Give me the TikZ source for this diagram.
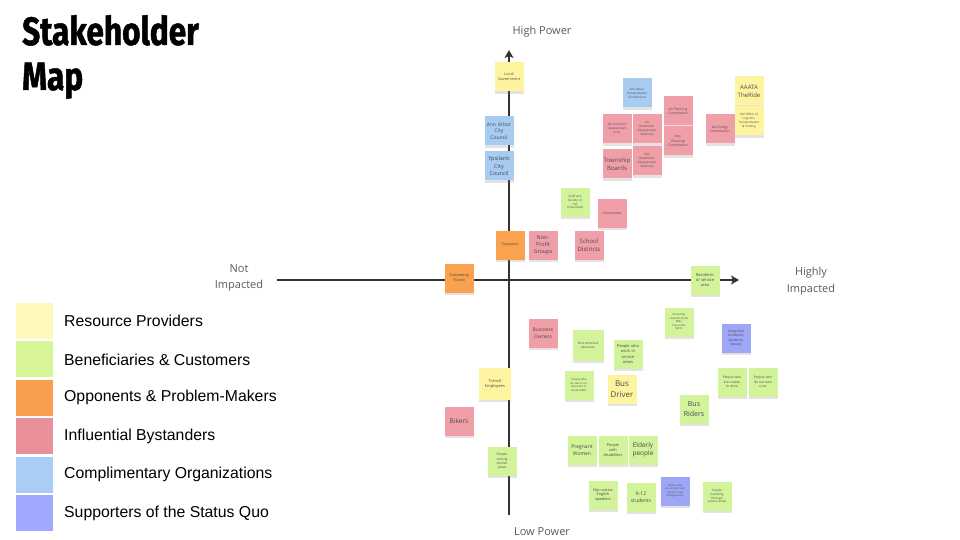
\documentclass[tikz,border=0pt]{standalone}
\usepackage{fontspec}
\setmainfont{Liberation Sans}
\newfontfamily\titlefont[FakeStretch=0.8,FakeBold=1.2]{Fira Sans}
\newfontfamily\opensans{Open Sans}
\usetikzlibrary{arrows.meta,shadows}
\newcommand\sfs[1]{\opensans\fontsize{#1}{\dimexpr #1pt*13/10\relax}\selectfont}
\definecolor{stY}{HTML}{FEF4A0}
\definecolor{stG}{HTML}{D3F39B}
\definecolor{stP}{HTML}{F09FA9}
\definecolor{stB}{HTML}{A8CBF2}
\definecolor{stV}{HTML}{9EA6F7}
\definecolor{stO}{HTML}{FBA24E}
\definecolor{lgY}{HTML}{FFF8BD}
\definecolor{lgG}{HTML}{D7F596}
\definecolor{lgO}{HTML}{F99E4C}
\definecolor{lgP}{HTML}{EA909B}
\definecolor{lgB}{HTML}{A9CDF4}
\definecolor{lgV}{HTML}{A0A9FD}
\definecolor{axisc}{HTML}{333333}
\definecolor{labc}{HTML}{5A5A5A}
\definecolor{stxt}{HTML}{4A4A4A}
\tikzset{
  sticky/.style={fill=#1, minimum width=28.5pt, minimum height=29pt, inner sep=0.5pt,
    align=center, text=stxt, text width=28pt,
    drop shadow={opacity=0.22, shadow xshift=0pt, shadow yshift=-2.2pt}},
  legsq/.style={fill=#1, minimum width=37pt, minimum height=36pt, inner sep=0pt},
  legtxt/.style={anchor=west, font=\fontsize{15.8}{18}\selectfont, text=black, inner sep=0pt},
  axlab/.style={font=\opensans\fontsize{11}{16.5}\selectfont, text=labc, align=center},
  axisline/.style={draw=axisc, line width=2pt, -{Stealth[length=8pt,width=9pt,inset=2pt]}},
  ttl/.style={anchor=base west, inner sep=0pt, font=\titlefont\bfseries\fontsize{39.5}{45}\selectfont}
}
\begin{document}
\begin{tikzpicture}[x=1pt,y=-1pt]
\useasboundingbox[fill=white] (0,0) rectangle (960,540);
% title
\node[ttl] (t1) at (22,45) {Stakeholder};
\node[ttl] (t2) at (22,90) {Map};
% legend
\foreach \c/\t [count=\i] in {lgY/Resource Providers, lgG/Beneficiaries \& Customers, lgO/Opponents \& Problem-Makers, lgP/Influential Bystanders, lgB/Complimentary Organizations, lgV/Supporters of the Status Quo}{
  \node[legsq=\c] (sq\i) at (34.5, 321+38.4*\i-38.4) {};
  \node[legtxt] (lt\i) at (64, 321+38.4*\i-38.4) {\t};
}
% axes
\coordinate (vbot) at (509,515);
\coordinate (vtop) at (509,50);
\coordinate (hl) at (277,280);
\coordinate (hr) at (739,280);
\draw[axisline] (vbot) -- (vtop);
\draw[axisline] (hl) -- (hr);
\node[axlab] (hp) at (542,32) {High Power};
\node[axlab] (lp) at (542,532) {Low Power};
\node[axlab] (ni) at (239,278) {Not\\Impacted};
\node[axlab] (hi) at (811,281) {Highly\\Impacted};
% stickies - upper area
\node[sticky=stY, font=\sfs{3.8}] (n1) at (509,77) {Local\\Government};
\node[sticky=stB, font=\sfs{5}] (n2) at (499,131) {Ann Arbor\\City\\Council};
\node[sticky=stB, font=\sfs{5.5}] (n3) at (499,166) {Ypsilanti\\City\\Council};
\node[sticky=stB, font=\sfs{3}] (n4) at (637,93) {Ann Arbor\\Transportation\\Commission};
\node[sticky=stP, font=\sfs{3}] (n5) at (617,129) {AA Economic\\Development\\Corp.};
\node[sticky=stP, font=\sfs{3}] (n6) at (647,129) {AA\\Downtown\\Development\\Authority};
\node[sticky=stP, font=\sfs{3.3}] (n7) at (678,111) {AA Planning\\Commission};
\node[sticky=stP, font=\sfs{3.3}] (n8) at (678,141) {Ypsi\\Planning\\Commission};
\node[sticky=stP, font=\sfs{6}] (n9) at (617,164) {Township\\Boards};
\node[sticky=stP, font=\sfs{3}] (n10) at (647,161) {Ypsi\\Downtown\\Development\\Authority};
\node[sticky=stP, font=\sfs{3.3}] (n11) at (720,129) {AA Energy\\Commission};
\node[sticky=stY, font=\sfs{6}] (n12) at (749,91) {AAATA\\TheRide};
\node[sticky=stY, font=\sfs{3}] (n13) at (749,121) {UM Office of\\Logistics,\\Transportation\\\& Parking};
\node[sticky=stG, font=\sfs{3}] (n14) at (575,202) {Staff and\\Faculty of\\the\\Universities};
\node[sticky=stP, font=\sfs{3.5}] (n15) at (612,213) {Universities};
\node[sticky=stO, font=\sfs{3.5}] (n16) at (510,245) {Taxpayers};
\node[sticky=stP, font=\sfs{5.5}] (n17) at (543,245) {Non-\\Profit\\Groups};
\node[sticky=stP, font=\sfs{6}] (n18) at (589,245) {School\\Districts};
\node[sticky=stO, font=\sfs{3.8}] (n19) at (459,278) {Competing\\Transit};
\node[sticky=stG, font=\sfs{4}] (n20) at (705,280) {Residents\\of service\\area};
% lower area
\node[sticky=stG, font=\sfs{2.7}] (n21) at (679,322) {University\\students (U-M,\\EMU,\\Concordia,\\WCC)};
\node[sticky=stV, font=\sfs{3.5}] (n22) at (736,338) {Long-time\\residents,\\students,\\faculty};
\node[sticky=stG, font=\sfs{3.3}] (n23) at (732,382) {People who\\are unable\\to drive};
\node[sticky=stG, font=\sfs{3.3}] (n24) at (763,382) {People who\\do not own\\a car};
\node[sticky=stG, font=\sfs{7}] (n25) at (694,409) {Bus\\Riders};
\node[sticky=stP, font=\sfs{5}] (n26) at (543,333) {Business\\Owners};
\node[sticky=stG, font=\sfs{3}, minimum width=31pt, minimum height=31pt, text width=30pt] (n27) at (588,345) {Environmental\\advocates\\[10pt]};
\node[sticky=stG, font=\sfs{4}] (n28) at (628,354) {People who\\work in\\service\\areas};
\node[sticky=stG, font=\sfs{2.7}] (n29) at (579,385) {People who\\do own a car,\\but want to\\avoid traffic};
\node[sticky=stY, font=\sfs{8}] (n30) at (622,389) {Bus\\Driver};
\node[sticky=stY, font=\sfs{4}, minimum width=32pt, minimum height=32pt, text width=31pt] (n31) at (495,384) {Transit\\Employees};
\node[sticky=stP, font=\sfs{6.5}] (n32) at (459,421) {Bikers};
\node[sticky=stG, font=\sfs{3.3}] (n33) at (502,461) {People\\visiting\\service\\areas};
\node[sticky=stG, font=\sfs{5}] (n34) at (582,450) {Pregnant\\Women};
\node[sticky=stG, font=\sfs{3.8}] (n35) at (613,450) {People\\with\\disabilities};
\node[sticky=stG, font=\sfs{6.5}] (n36) at (643,450) {Elderly\\people};
\node[sticky=stG, font=\sfs{3.8}] (n37) at (603,495) {Non-native\\English\\speakers};
\node[sticky=stG, font=\sfs{5}] (n38) at (641,497) {K-12\\students};
\node[sticky=stV, font=\sfs{2.6}] (n39) at (675,491) {People who\\are content with\\current travel\\configurations};
\node[sticky=stG, font=\sfs{3}] (n40) at (717,496) {People\\transiting\\through\\service areas};
\end{tikzpicture}
\end{document}
